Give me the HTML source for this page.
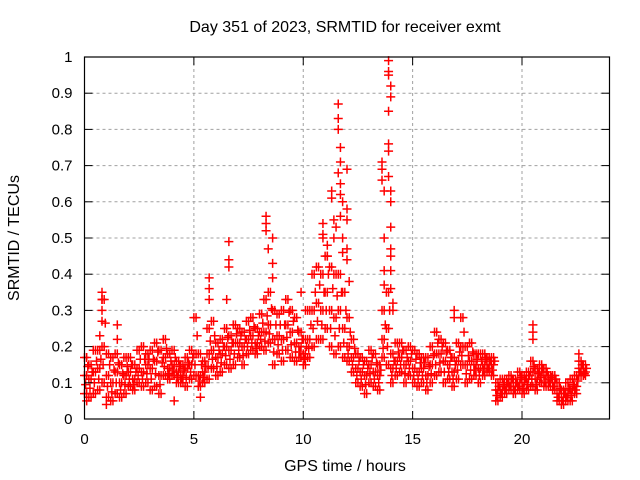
<!DOCTYPE html>
<html><head><meta charset="utf-8"><style>
body{margin:0;background:#fff}
svg{display:block;font-family:"Liberation Sans",sans-serif}
</style></head><body>
<svg id="chart" width="640" height="480">
<text x="345" y="32" text-anchor="middle" font-size="16">Day 351 of 2023, SRMTID for receiver exmt</text>
<text x="345" y="471" text-anchor="middle" font-size="16">GPS time / hours</text>
<text transform="translate(19,238) rotate(-90)" text-anchor="middle" font-size="16">SRMTID / TECUs</text>
<g id="grid"></g><g id="marks"></g><g id="axes"></g>
</svg>
<script>
const tStart = 0, tStep = 0.2;
const bandLo = [.07,.06,.07,.08,.10,.06,.05,.07,.06,.07,.09,.08,.10,.09,.10,.08,.09,.07,.12,.11,.12,.10,.10,.09,.11,.12,.09,.10,.11,.14,.12,.13,.15,.14,.15,.17,.15,.18,.19,.18,.20,.19,.21,.15,.18,.16,.19,.17,.16,.17,.15,.17,.20,.22,.22,.25,.20,.18,.20,.17,.16,.13,.10,.09,.07,.10,.09,.08,.17,.15,.10,.12,.13,.10,.12,.10,.09,.10,.08,.10,.12,.13,.10,.11,.09,.11,.15,.10,.11,.12,.10,.12,.13,.12,.05,.06,.07,.08,.07,.08,.07,.08,.09,.08,.10,.09,.09,.08,.05,.04,.05,.05,.07,.12,.12];
const bandMid = [.12,.11,.13,.14,.20,.12,.10,.13,.10,.12,.13,.11,.14,.13,.15,.14,.16,.12,.17,.14,.15,.13,.12,.14,.15,.18,.12,.13,.18,.19,.17,.18,.20,.19,.21,.21,.20,.22,.23,.21,.24,.24,.26,.22,.23,.22,.26,.24,.21,.20,.18,.22,.30,.32,.30,.35,.30,.28,.30,.25,.20,.17,.14,.13,.12,.15,.13,.12,.22,.25,.14,.16,.17,.15,.16,.14,.13,.14,.12,.15,.18,.18,.16,.15,.13,.16,.20,.15,.16,.15,.14,.15,.15,.15,.08,.08,.09,.10,.09,.10,.10,.11,.13,.11,.13,.12,.11,.10,.07,.06,.07,.08,.09,.14,.13];
const bandHi = [.17,.15,.19,.19,.33,.18,.17,.18,.15,.17,.17,.15,.19,.20,.18,.19,.21,.19,.22,.18,.19,.16,.15,.17,.19,.28,.18,.16,.25,.27,.21,.22,.25,.23,.26,.25,.24,.27,.28,.25,.29,.33,.35,.30,.29,.30,.33,.30,.28,.24,.22,.30,.40,.42,.40,.45,.42,.40,.40,.35,.28,.22,.18,.17,.16,.19,.18,.15,.30,.35,.18,.21,.21,.19,.20,.19,.18,.17,.17,.20,.24,.22,.21,.19,.17,.21,.28,.20,.21,.18,.18,.18,.17,.17,.10,.11,.11,.12,.11,.13,.12,.13,.16,.14,.15,.14,.12,.12,.10,.08,.10,.11,.12,.16,.15];
const spikeX = [0.8,0.8,0.8,0.8,0.7,1.5,1.5,6.6,6.6,6.6,6.5,5.7,5.7,5.7,8.3,8.3,8.3,8.4,8.6,8.6,8.6,10.9,10.9,10.9,11.1,11.1,11.3,11.3,11.4,11.6,11.6,11.6,11.7,11.7,11.6,11.7,11.7,11.8,11.7,11.8,11.8,12.0,12.0,12.0,12.0,12.0,12.1,11.5,11.4,13.6,13.6,13.6,13.7,13.7,13.7,13.7,13.9,13.9,13.9,14.0,14.0,13.9,13.9,13.9,13.9,14.0,14.0,14.0,14.0,14.0,14.0,14.0,14.1,14.1,16.9,16.9,20.5,20.5,20.5,22.6,9.9,10.1,0.1,1.0,4.1,5.3];
const spikeY = [0.35,0.33,0.30,0.27,0.23,0.26,0.22,0.49,0.44,0.42,0.33,0.39,0.36,0.33,0.56,0.54,0.52,0.47,0.50,0.43,0.39,0.54,0.51,0.50,0.48,0.45,0.63,0.61,0.55,0.87,0.83,0.80,0.75,0.71,0.68,0.65,0.62,0.60,0.56,0.50,0.46,0.69,0.58,0.55,0.47,0.44,0.38,0.53,0.50,0.71,0.69,0.66,0.63,0.50,0.41,0.37,0.99,0.96,0.95,0.92,0.89,0.85,0.76,0.74,0.67,0.63,0.60,0.53,0.47,0.45,0.41,0.36,0.32,0.30,0.30,0.28,0.26,0.24,0.22,0.18,0.35,0.30,0.05,0.04,0.05,0.06];
const xTicks = [0,5,10,15,20];
const yTicks = [0,0.1,0.2,0.3,0.4,0.5,0.6,0.7,0.8,0.9,1];
const yTickLabels = ["0","0.1","0.2","0.3","0.4","0.5","0.6","0.7","0.8","0.9","1"];

const L=84.5,R=609.5,T=57,B=419,XMAX=24,YMAX=1;
const sx=v=>L+v/XMAX*(R-L), sy=v=>B-v/YMAX*(B-T);
const NS="http://www.w3.org/2000/svg";
function mk(tag,attrs,parent){const e=document.createElementNS(NS,tag);for(const k in attrs)e.setAttribute(k,attrs[k]);parent.appendChild(e);return e;}
const grid=document.getElementById('grid'),axes=document.getElementById('axes'),marks=document.getElementById('marks');
yTicks.forEach((v,i)=>{
  const y=sy(v);
  if(v>0&&v<1){const g=mk('line',{x1:L,x2:R,y1:y,y2:y,stroke:'#a0a0a0','stroke-dasharray':'3,3'},grid);
  
  }
  mk('line',{x1:L,x2:L+8,y1:y,y2:y,stroke:'#000'},axes);
  mk('line',{x1:R-8,x2:R,y1:y,y2:y,stroke:'#000'},axes);
  const t=mk('text',{x:L-12,y:y+5,'text-anchor':'end','font-size':'15'},axes);
  t.textContent=yTickLabels[i];
  
  
});
xTicks.forEach(v=>{
  const x=sx(v);
  if(v>0){const g=mk('line',{x1:x,x2:x,y1:T,y2:B,stroke:'#a0a0a0','stroke-dasharray':'3,3'},grid);
  
  }
  mk('line',{x1:x,x2:x,y1:B,y2:B-8,stroke:'#000'},axes);
  mk('line',{x1:x,x2:x,y1:T,y2:T+8,stroke:'#000'},axes);
  const t=mk('text',{x:x,y:B+25,'text-anchor':'middle','font-size':'15'},axes);
  t.textContent=String(v);
  
  
});
const frame=mk('rect',{x:L,y:T,width:R-L,height:B-T,fill:'none',stroke:'#000','stroke-width':'1.2'},axes);


function plus(t,v){
  const x=sx(t),y=sy(v);
  const p=mk('path',{d:`M${x-4.5},${y}H${x+4.5}M${x},${y-4.5}V${y+4.5}`,stroke:'#ff0000','stroke-width':'1.5',fill:'none'},marks);
  
  
}
[bandLo,bandMid,bandHi].forEach(arr=>arr.forEach((v,i)=>{
  const t=tStart+i*tStep;
  plus(t,v);
  plus(t+tStep/2,v);
}));
bandLo.forEach((v,i)=>{const t=tStart+i*tStep;plus(t+0.05,(v+bandMid[i])/2);plus(t+0.15,(bandMid[i]+bandHi[i])/2);});
spikeX.forEach((t,i)=>plus(t,spikeY[i]));
</script>
</body></html>
